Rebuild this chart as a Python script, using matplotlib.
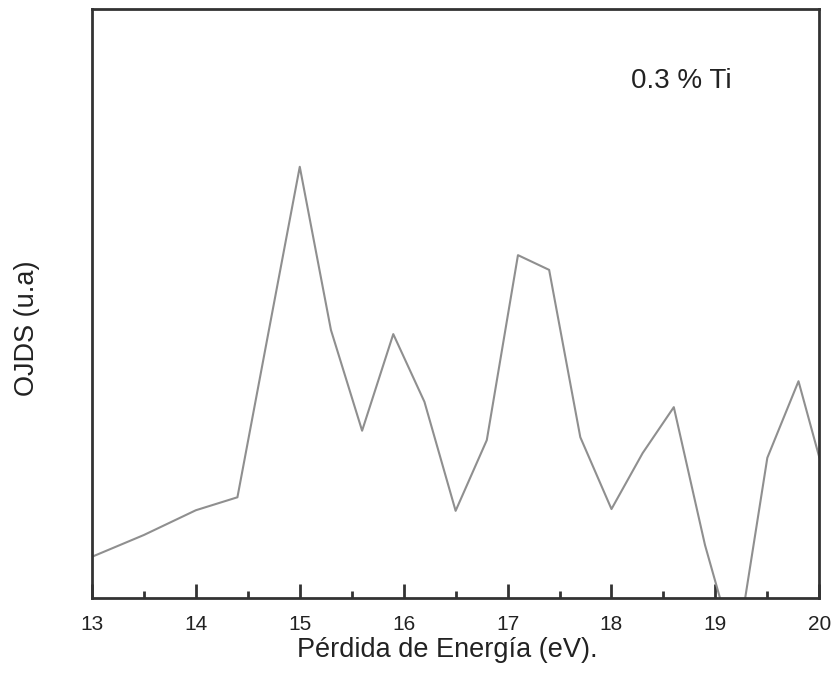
import matplotlib
matplotlib.use("Agg")
import matplotlib.pyplot as plt
from matplotlib.ticker import MultipleLocator

plt.rcParams['font.family'] = ['Liberation Sans', 'DejaVu Sans']

# Energy loss (eV) and OJDS intensity (arbitrary units)
energy = [13.0, 13.5, 14.0, 14.4, 14.7, 15.0, 15.3, 15.6, 15.9, 16.2, 16.5,
          16.8, 17.1, 17.4, 17.7, 18.0, 18.3, 18.6, 18.9, 19.2, 19.5, 19.8, 20.0]
ojds = [7.0, 10.7, 14.9, 17.1, 45.2, 73.2, 45.5, 28.4, 44.8, 33.3, 14.8,
        26.8, 58.2, 55.7, 27.3, 15.1, 24.6, 32.4, 9.0, -9.7, 23.8, 36.8, 23.9]

x_ticks = [13, 14, 15, 16, 17, 18, 19, 20]
x_label = "Pérdida de Energía (eV)."
y_label = "OJDS (u.a)"
note = "0.3 % Ti"

fig = plt.figure(figsize=(8.36, 6.84), dpi=100)
ax = fig.add_axes([0.110, 0.1257, 0.870, 0.8613])

ax.plot(energy, ojds, color="#8f8f8f", linewidth=1.5)

ax.set_xlim(13, 20)
ax.set_ylim(0, 100)
ax.set_xticks(x_ticks)
ax.xaxis.set_minor_locator(MultipleLocator(0.5))
ax.set_yticks([])

ax.tick_params(axis="x", which="major", direction="in", length=10, width=2,
               color="#333333", labelsize=15, pad=12, labelcolor="#222222")
ax.tick_params(axis="x", which="minor", direction="in", length=5, width=2,
               color="#333333")

for s in ax.spines.values():
    s.set_color("#333333")
    s.set_linewidth(2)

ax.set_xlabel(x_label, fontsize=19.5, color="#222222")
ax.xaxis.set_label_coords(0.488, -0.066)
ax.set_ylabel(y_label, fontsize=19.5, color="#222222")
ax.yaxis.set_label_coords(-0.072, 0.458)

ax.text(0.810, 0.878, note, transform=ax.transAxes, fontsize=20,
        ha="center", va="center", color="#222222")

fig.savefig("out.png", dpi=100, facecolor="white")
